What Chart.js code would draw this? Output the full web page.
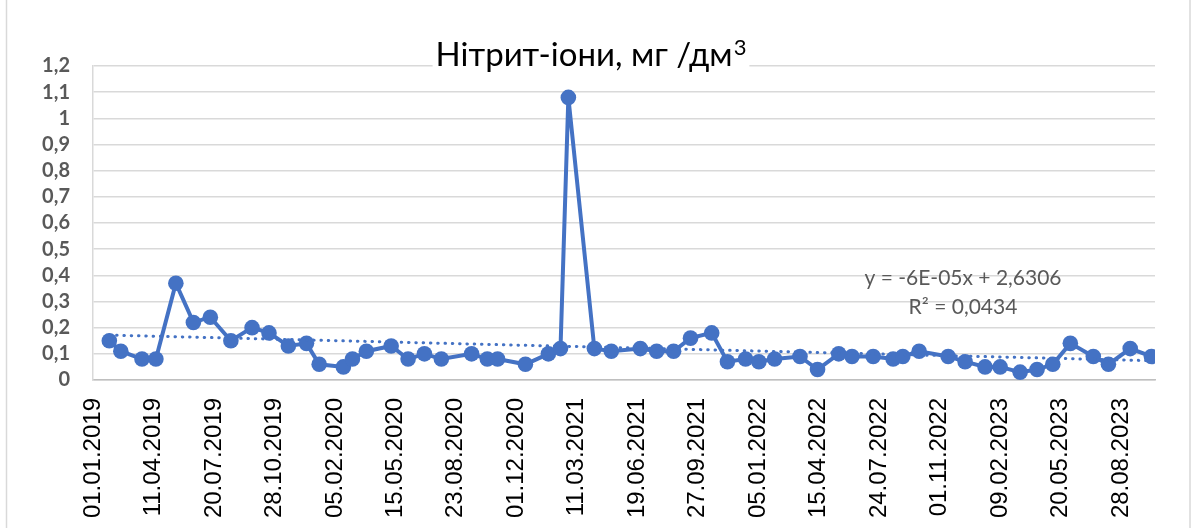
<!DOCTYPE html>
<html>
<head>
<meta charset="utf-8">
<script src="https://cdn.jsdelivr.net/npm/chart.js@4"></script>
<style>
  html, body { margin: 0; padding: 0; background: #ffffff; }
  #wrap { position: relative; width: 1197px; height: 528px; }
</style>
</head>
<body>
<div id="wrap"><canvas id="c" width="1197" height="528"></canvas></div>
<script>
// ---- data ----
const sampleDates = [
  '28.01.2019','16.02.2019','23.03.2019','15.04.2019','18.05.2019','16.06.2019','14.07.2019','17.08.2019',
  '21.09.2019','19.10.2019','20.11.2019','20.12.2019','10.01.2020','19.02.2020','05.03.2020','28.03.2020',
  '08.05.2020','05.06.2020','02.07.2020','30.07.2020','18.09.2020','14.10.2020','31.10.2020','16.12.2020',
  '23.01.2021','12.02.2021','25.02.2021','09.04.2021','07.05.2021','24.06.2021','21.07.2021','18.08.2021',
  '15.09.2021','20.10.2021','15.11.2021','15.12.2021','06.01.2022','01.02.2022','15.03.2022','13.04.2022',
  '18.05.2022','09.06.2022','14.07.2022','16.08.2022','01.09.2022','28.09.2022','15.11.2022','13.12.2022',
  '15.01.2023','09.02.2023','14.03.2023','11.04.2023','07.05.2023','05.06.2023','13.07.2023','07.08.2023',
  '12.09.2023','17.10.2023'
];
const nitriteValues = [
  0.15, 0.11, 0.08, 0.08, 0.37, 0.22, 0.24, 0.15,
  0.20, 0.18, 0.13, 0.14, 0.06, 0.05, 0.08, 0.11,
  0.13, 0.08, 0.10, 0.08, 0.10, 0.08, 0.08, 0.06,
  0.10, 0.12, 1.08, 0.12, 0.11, 0.12, 0.11, 0.11,
  0.16, 0.18, 0.07, 0.08, 0.07, 0.08, 0.09, 0.04,
  0.10, 0.09, 0.09, 0.08, 0.09, 0.11, 0.09, 0.07,
  0.05, 0.05, 0.03, 0.04, 0.06, 0.14, 0.09, 0.06,
  0.12, 0.09
];
const xTickDates = [
  '01.01.2019','11.04.2019','20.07.2019','28.10.2019','05.02.2020','15.05.2020','23.08.2020','01.12.2020',
  '11.03.2021','19.06.2021','27.09.2021','05.01.2022','15.04.2022','24.07.2022','01.11.2022','09.02.2023',
  '20.05.2023','28.08.2023'
];
const xMinDate = '01.01.2019';
const xMaxDate = '23.10.2023';
const yMin = 0, yMax = 1.2, yStep = 0.1;
const titleMain = 'Нітрит-іони, мг /дм';
const titleSup = '3';
const trendLabel = ['y = -6E-05x + 2,6306', 'R² = 0,0434'];

// ---- helpers ----
const BASE = Date.UTC(2019, 0, 1);
function dayOf(s) { const [d, m, y] = s.split('.').map(Number); return (Date.UTC(y, m - 1, d) - BASE) / 864e5; }
function fmtDay(v) {
  const dt = new Date(BASE + v * 864e5);
  const p = n => String(n).padStart(2, '0');
  return p(dt.getUTCDate()) + '.' + p(dt.getUTCMonth() + 1) + '.' + dt.getUTCFullYear();
}
const points = sampleDates.map((s, i) => ({ x: dayOf(s), y: nitriteValues[i] }));

// linear least-squares trend through the series
const n = points.length;
const mx = points.reduce((a, p) => a + p.x, 0) / n;
const my = points.reduce((a, p) => a + p.y, 0) / n;
let sxy = 0, sxx = 0;
points.forEach(p => { sxy += (p.x - mx) * (p.y - my); sxx += (p.x - mx) * (p.x - mx); });
const slope = sxy / sxx, icpt = my - slope * mx;
const x0 = points[0].x, x1 = points[n - 1].x;
const trendPoints = [{ x: x0, y: icpt + slope * x0 }, { x: x1, y: icpt + slope * x1 }];

const BLUE = '#4472C4';

const decorPlugin = {
  id: 'decor',
  beforeDraw(chart) {
    const ctx = chart.ctx;
    ctx.save();
    ctx.fillStyle = '#ffffff';
    ctx.fillRect(0, 0, chart.width, chart.height);
    ctx.strokeStyle = '#d9d9d9';
    ctx.lineWidth = 1.5;
    ctx.beginPath();
    ctx.moveTo(6.5, 0); ctx.lineTo(6.5, chart.height);
    ctx.moveTo(1190, 0); ctx.lineTo(1190, chart.height);
    ctx.stroke();
    ctx.restore();
  },
  afterDraw(chart) {
    const ctx = chart.ctx;
    ctx.save();
    // title with superscript
    const mainFont = '33px Lato', supFont = '22px Lato';
    ctx.font = mainFont;
    const w1 = ctx.measureText(titleMain).width;
    ctx.font = supFont;
    const w2 = ctx.measureText(titleSup).width;
    const tw = w1 + w2 + 1;
    const cx = 591;
    const base = 66;
    const left = cx - tw / 2;
    ctx.fillStyle = '#ffffff';
    ctx.fillRect(left - 3, base - 29, tw + 6, 37);
    ctx.fillStyle = '#000000';
    ctx.textAlign = 'left';
    ctx.textBaseline = 'alphabetic';
    ctx.font = mainFont;
    ctx.fillText(titleMain, left, base);
    ctx.font = supFont;
    ctx.fillText(titleSup, left + w1 + 1, base - 11);
    // trendline equation
    ctx.font = '21px Lato';
    ctx.fillStyle = '#595959';
    ctx.textAlign = 'center';
    const ex = 963;
    ctx.fillText(trendLabel[0], ex, 285);
    ctx.fillText(trendLabel[1], ex, 314);
    ctx.restore();
  }
};

new Chart(document.getElementById('c'), {
  type: 'line',
  data: {
    datasets: [
      {
        label: 'trend',
        data: trendPoints,
        borderColor: BLUE,
        borderWidth: 3,
        borderDash: [0.5, 6.8],
        borderCapStyle: 'round',
        pointRadius: 0,
        fill: false,
        order: 0
      },
      {
        label: 'Нітрит-іони',
        data: points,
        borderColor: BLUE,
        backgroundColor: BLUE,
        borderWidth: 4,
        pointRadius: 7.8,
        pointHoverRadius: 7.8,
        pointBackgroundColor: BLUE,
        pointBorderWidth: 0,
        tension: 0,
        fill: false,
        order: 1
      }
    ]
  },
  options: {
    responsive: false,
    animation: false,
    devicePixelRatio: 1,
    layout: { padding: { left: 0, right: 42, top: 66, bottom: 0 } },
    plugins: { legend: { display: false }, title: { display: false }, tooltip: { enabled: false } },
    scales: {
      x: {
        type: 'linear',
        min: dayOf(xMinDate),
        max: dayOf(xMaxDate),
        afterBuildTicks(scale) { scale.ticks = xTickDates.map(s => ({ value: dayOf(s) })); },
        afterFit(scale) { scale.height = 148; },
        grid: { display: false, drawTicks: false },
        border: { display: true, color: '#bfbfbf', width: 1.5 },
        ticks: {
          autoSkip: false,
          minRotation: 90,
          maxRotation: 90,
          padding: 18,
          color: '#000000',
          font: { family: 'Liberation Sans', size: 24 },
          callback: v => fmtDay(v)
        }
      },
      y: {
        min: yMin,
        max: yMax,
        afterFit(scale) { scale.width = 93; },
        grid: { color: '#d9d9d9', lineWidth: 1.5, drawTicks: false },
        border: { display: true, color: '#d9d9d9', width: 1.5 },
        ticks: {
          autoSkip: false,
          stepSize: yStep,
          padding: 23,
          color: '#595959',
          font: { family: 'Lato', size: 20, weight: 'bold' },
          callback: v => { const r = Math.round(v * 10) / 10; return String(r).replace('.', ','); }
        }
      }
    }
  },
  plugins: [decorPlugin]
});
</script>
</body>
</html>
